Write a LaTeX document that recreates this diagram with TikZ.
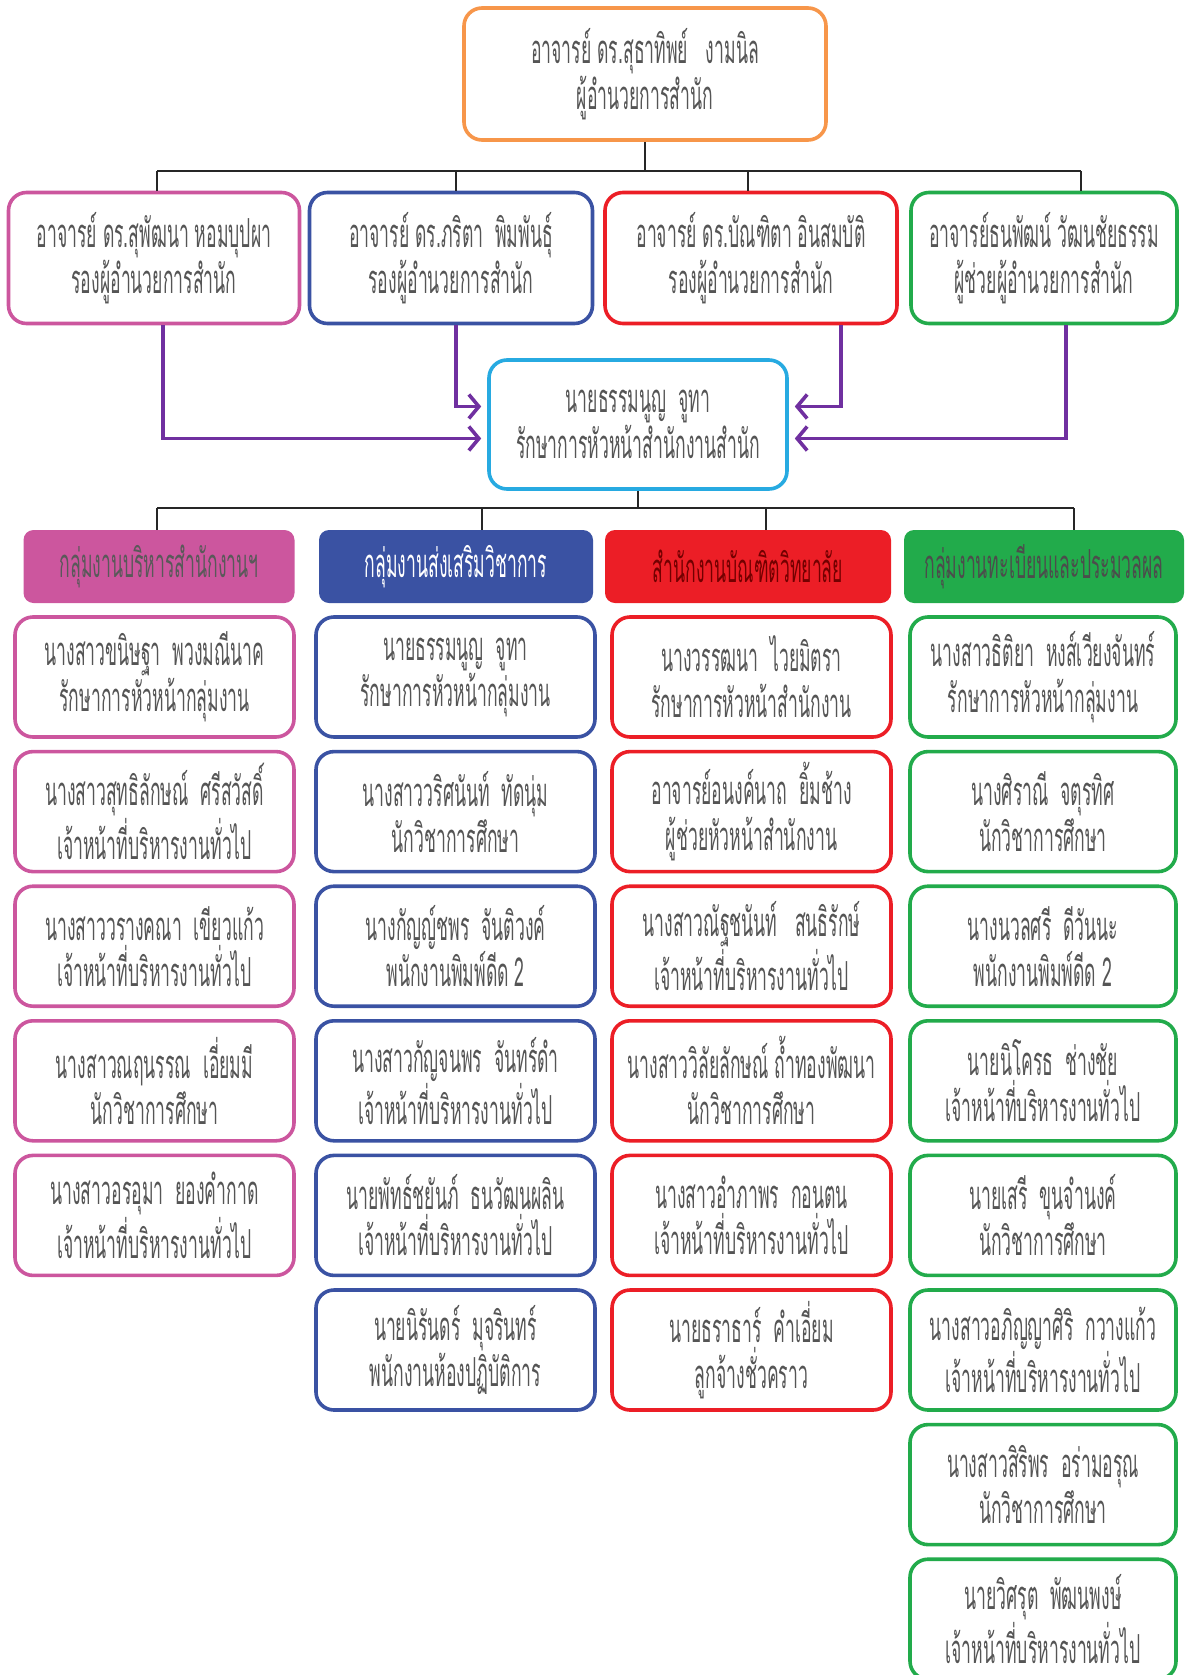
\documentclass[tikz,border=0pt]{standalone}
\usepackage{fontspec}
\newfontfamily\thaifnt[Script=Thai,FakeStretch=0.44]{Loma}
\usetikzlibrary{arrows.meta}
\definecolor{orangec}{HTML}{F7964A}
\definecolor{pinkc}{HTML}{CC569E}
\definecolor{bluec}{HTML}{3A52A3}
\definecolor{redc}{HTML}{EC1E26}
\definecolor{greenc}{HTML}{22AB4B}
\definecolor{cyanc}{HTML}{27AAE1}
\definecolor{purplec}{HTML}{7030A0}
\definecolor{txtgray}{HTML}{555555}

\begin{document}
\begin{tikzpicture}[x=0.5pt, y=-0.5pt,
    pbox/.style={draw=#1, line width=1.8pt, rounded corners=9pt, fill=white,
      align=center, inner sep=0pt, minimum width=139.5pt, minimum height=60pt,
      text=txtgray, font=\thaifnt\fontsize{20}{23}\selectfont},
    gbox/.style={fill=#1, rounded corners=5pt, align=center, inner sep=0pt,
      minimum height=36.5pt, font=\thaifnt\fontsize{20}{23}\selectfont},
    bus/.style={line width=1.1pt, black!85},
    link/.style={line width=1.8pt, purplec, -{Straight Barb[length=5pt,width=12pt]}, shorten >=3pt}]
\useasboundingbox (0,0) rectangle (1185,1675);
\clip (0,0) rectangle (1185,1675);

% director
\node[pbox=orangec, minimum width=181pt, minimum height=66pt] (dir) at (645,74)
  {อาจารย์ ดร.สุธาทิพย์~~~งามนิล\\ผู้อำนวยการสำนัก};

% deputies
\node[pbox=pinkc, minimum width=145.5pt, minimum height=65.5pt] (vd1) at (154,258)
  {อาจารย์ ดร.สุพัฒนา หอมบุปผา\\รองผู้อำนวยการสำนัก};
\node[pbox=bluec, minimum width=141.5pt, minimum height=65.5pt] (vd2) at (451,258)
  {อาจารย์ ดร.ภริตา~ พิมพันธุ์\\รองผู้อำนวยการสำนัก};
\node[pbox=redc, minimum width=146pt, minimum height=65.5pt] (vd3) at (751,258)
  {อาจารย์ ดร.บัณฑิตา อินสมบัติ\\รองผู้อำนวยการสำนัก};
\node[pbox=greenc, minimum width=133pt, minimum height=65.5pt] (vd4) at (1044,258)
  {อาจารย์ธนพัฒน์ วัฒนชัยธรรม\\ผู้ช่วยผู้อำนวยการสำนัก};

\coordinate (tb) at (645,171);
\coordinate (td1) at (157,171);
\coordinate (td2) at (456,171);
\coordinate (td3) at (748,171);
\coordinate (td4) at (1081,171);
\draw[bus] (dir.south) -- (dir.south |- tb);
\draw[bus] (td1) -- (td4);
\foreach \k in {1,2,3,4}
  \draw[bus] (td\k) -- (td\k |- vd\k.north);

% office head
\node[pbox=cyanc, minimum width=149pt, minimum height=64.5pt] (head) at (638,424.5)
  {นายธรรมนูญ~ จูทา\\รักษาการหัวหน้าสำนักงานสำนัก};

\draw[link] ([xshift=4.5pt]vd1.south) |- ([yshift=-7pt]head.west);
\draw[link] ([xshift=2.5pt]vd2.south) |- ([yshift=9pt]head.west);
\draw[link] ([xshift=45pt]vd3.south) |- ([yshift=9pt]head.east);
\draw[link] ([xshift=11pt]vd4.south) |- ([yshift=-7pt]head.east);

% groups
\node[gbox=pinkc, text=black!65, minimum width=135.5pt] (g1) at (159,566.5) {กลุ่มงานบริหารสำนักงานฯ};
\node[gbox=bluec, text=white, minimum width=137pt] (g2) at (456,566.5) {กลุ่มงานส่งเสริมวิชาการ};
\node[gbox=redc, text=red!45!black, minimum width=143pt] (g3) at (748,566.5) {สำนักงานบัณฑิตวิทยาลัย};
\node[gbox=greenc, text=black!70, minimum width=140pt] (g4) at (1044,566.5) {กลุ่มงานทะเบียนและประมวลผล};

\coordinate (lb) at (643,508);
\draw[bus] (head.south) -- (head.south |- lb);
\coordinate (ld1) at (157,508);
\coordinate (ld2) at (482,508);
\coordinate (ld3) at (766,508);
\coordinate (ld4) at (1074,508);
\draw[bus] (ld1) -- (ld4);
\foreach \k in {1,2,3,4}
  \draw[bus] (ld\k) -- (ld\k |- g\k.north);

% staff
\foreach \nm/\pos [count=\k] in {
  นางสาวขนิษฐา~ พวงมณีนาค/รักษาการหัวหน้ากลุ่มงาน,
  นางสาวสุทธิลักษณ์~ ศรีสวัสดิ์/เจ้าหน้าที่บริหารงานทั่วไป,
  นางสาววรางคณา~ เขียวแก้ว/เจ้าหน้าที่บริหารงานทั่วไป,
  นางสาวณฤนรรณ~ เอี่ยมมี/นักวิชาการศึกษา,
  นางสาวอรอุมา~ ยองคำกาด/เจ้าหน้าที่บริหารงานทั่วไป}
  \node[pbox=pinkc] (pk\k) at (154.5,{677+(\k-1)*134.6}) {\nm\\\pos};

\foreach \nm/\pos [count=\k] in {
  นายธรรมนูญ~ จูทา/รักษาการหัวหน้ากลุ่มงาน,
  นางสาววริศนันท์~ ทัดนุ่ม/นักวิชาการศึกษา,
  นางกัญญ์ชพร~ จันติวงค์/พนักงานพิมพ์ดีด 2,
  นางสาวกัญจนพร~ จันทร์ดำ/เจ้าหน้าที่บริหารงานทั่วไป,
  นายพัทธ์ชยันภ์~ ธนวัฒนผลิน/เจ้าหน้าที่บริหารงานทั่วไป,
  นายนิรันดร์~ มุจรินทร์/พนักงานห้องปฏิบัติการ}
  \node[pbox=bluec] (bl\k) at (455.5,{677+(\k-1)*134.6}) {\nm\\\pos};

\foreach \nm/\pos [count=\k] in {
  นางวรรฒนา~ ไวยมิตรา/รักษาการหัวหน้าสำนักงาน,
  อาจารย์อนงค์นาถ~ ยิ้มช้าง/ผู้ช่วยหัวหน้าสำนักงาน,
  นางสาวณัฐชนันท์~~ สนธิรักษ์/เจ้าหน้าที่บริหารงานทั่วไป,
  นางสาววิลัยลักษณ์ ถ้ำทองพัฒนา/นักวิชาการศึกษา,
  นางสาวอำภาพร~ กอนตน/เจ้าหน้าที่บริหารงานทั่วไป,
  นายธราธาร์~ คำเอี่ยม/ลูกจ้างชั่วคราว}
  \node[pbox=redc] (rd\k) at (751.5,{677+(\k-1)*134.6}) {\nm\\\pos};

\foreach \nm/\pos [count=\k] in {
  นางสาวธิติยา~ หงส์เวียงจันทร์/รักษาการหัวหน้ากลุ่มงาน,
  นางศิราณี~ จตุรทิศ/นักวิชาการศึกษา,
  นางนวลศรี~ ดีวันนะ/พนักงานพิมพ์ดีด 2,
  นายนิโครธ~ ช่างชัย/เจ้าหน้าที่บริหารงานทั่วไป,
  นายเสรี~ ขุนจำนงค์/นักวิชาการศึกษา,
  นางสาวอภิญญาศิริ~ กวางแก้ว/เจ้าหน้าที่บริหารงานทั่วไป,
  นางสาวสิริพร~ อร่ามอรุณ/นักวิชาการศึกษา,
  นายวิศรุต~ พัฒนพงษ์/เจ้าหน้าที่บริหารงานทั่วไป}
  \node[pbox=greenc, minimum width=133pt] (gn\k) at (1043,{677+(\k-1)*134.6}) {\nm\\\pos};
\end{tikzpicture}
\end{document}
